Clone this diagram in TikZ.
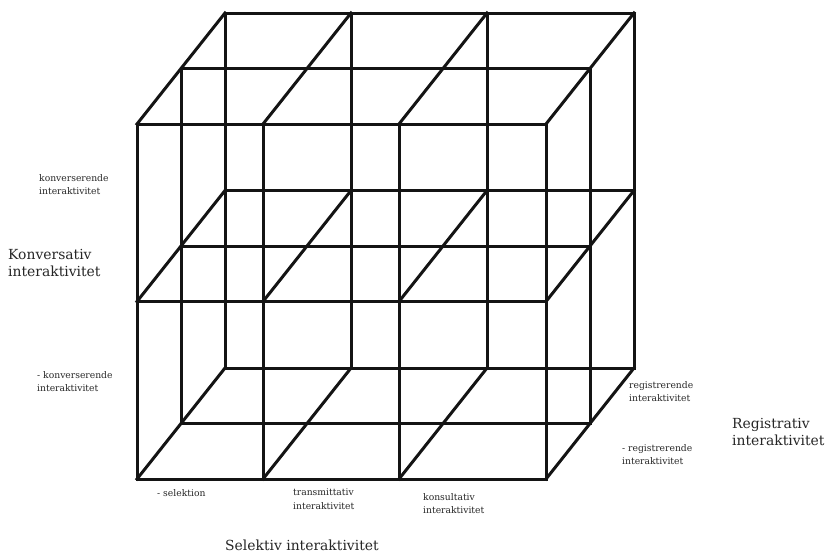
\documentclass[tikz,border=0pt]{standalone}
\usepackage{fontspec}
\setmainfont{DejaVu Serif}

\begin{document}
\begin{tikzpicture}[x=1pt,y=-1pt,
	grid line/.style={line width=3pt,draw=black!92,line cap=rect},
	small label/.style={anchor=north west,inner sep=0pt,align=left,text=black!85,font=\fontsize{9.2}{13.5}\selectfont},
	big label/.style={anchor=north west,inner sep=0pt,align=left,text=black!85,font=\fontsize{13.9}{17.5}\selectfont}]
	\useasboundingbox (0,0) rectangle (828,558);
	% grid points: column i, depth j (0 front, 2 back), level k (0 bottom)
	\foreach \i/\x in {0/137,1/263,2/399,3/546}
		\foreach \j in {0,1,2}
			\foreach \k/\y in {0/479,1/301.5,2/124}
				\coordinate (p\i\j\k) at (\x+44*\j,\y-55.5*\j);
	% horizontal lines
	\foreach \j in {0,1,2}
		\foreach \k in {0,1,2}
			\draw[grid line] (p0\j\k) -- (p3\j\k);
	% depth lines
	\foreach \i in {0,...,3}
		\foreach \k in {0,1,2}
			\draw[grid line] (p\i0\k) -- (p\i2\k);
	% vertical lines
	\foreach \i/\j in {0/0,1/0,2/0,3/0,0/1,3/1,0/2,1/2,2/2,3/2}
		\draw[grid line] (p\i\j0) -- (p\i\j2);
	% labels
	\node[small label] (konv) at (39,174) {konverserende\\interaktivitet};
	\node[big label] (konvaxis) at (8,249) {Konversativ\\interaktivitet};
	\node[small label] (nkonv) at (37,371) {- konverserende\\interaktivitet};
	\node[small label] (sel) at (157,489) {- selektion};
	\node[small label] (trans) at (293,489) {transmittativ\\interaktivitet};
	\node[small label] (kons) at (423,493) {konsultativ\\interaktivitet};
	\node[big label] (selaxis) at (225,540) {Selektiv interaktivitet};
	\node[small label] (reg) at (629,381) {registrerende\\interaktivitet};
	\node[small label] (nreg) at (622,444) {- registrerende\\interaktivitet};
	\node[big label] (regaxis) at (732,418) {Registrativ\\interaktivitet};
\end{tikzpicture}
\end{document}
